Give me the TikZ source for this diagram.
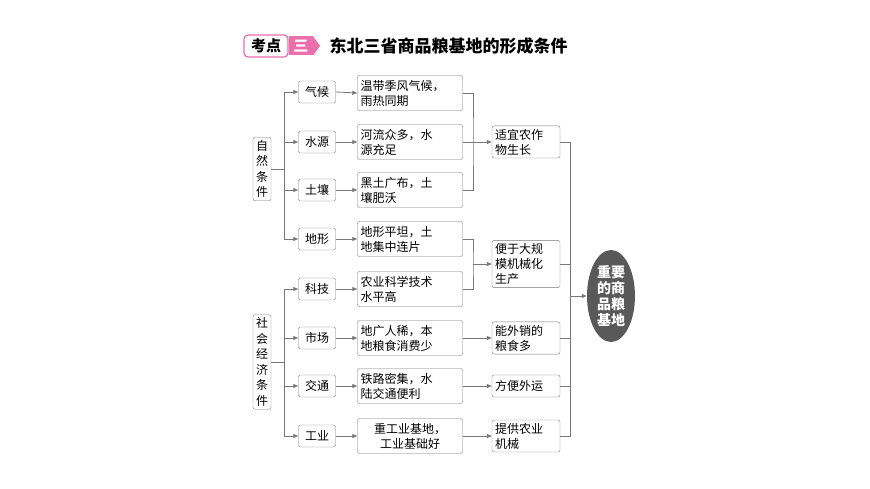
\documentclass[tikz,border=0pt]{standalone}
\usepackage{fontspec}
\setmainfont{Noto Sans CJK SC}
\usetikzlibrary{positioning,arrows.meta,shapes.geometric}
\definecolor{linegray}{RGB}{120,120,120}
\definecolor{kdpink}{RGB}{236,110,170}
\tikzset{
  box/.style={draw=linegray, rounded corners=2pt, fill=white, font=\fontsize{12}{15}\selectfont,
    align=left, inner sep=3pt},
  side/.style={box, text width=12pt, align=center, inner sep=3pt, font=\fontsize{12}{15.5}\selectfont},
  item/.style={box, minimum width=37pt, minimum height=22pt, align=center},
  fact/.style={box, text width=99pt, minimum height=35pt},
  result/.style={box, text width=62pt, minimum height=22pt},
  link/.style={draw=linegray, line width=0.8pt, -{Triangle[length=5pt,width=4pt]}},
  trunk/.style={draw=linegray, line width=0.8pt}
}
\begin{document}
\begin{tikzpicture}[x=1pt,y=-1pt]
\useasboundingbox (0,0) rectangle (870,489);

% title
\node[draw=kdpink, line width=1.2pt, rounded corners=4pt, fill=white, minimum width=44pt, minimum height=22pt,
  font=\fontsize{15}{15}\bfseries\selectfont, inner sep=1pt] (kd) at (266,46) {考点};
\node[fill=kdpink, text=white, minimum width=24pt, minimum height=19pt, font=\fontsize{15}{15}\bfseries\selectfont,
  inner sep=0pt, right=0pt of kd.east] (kdnum) {三};
\fill[kdpink] (kdnum.north east) -- ++(7,9.5) -- (kdnum.south east) -- cycle;
\node[anchor=west, font=\fontsize{17}{17}\bfseries\selectfont] (title) at (326,46) {东北三省商品粮基地的形成条件};

% left groups
\node[side] (nat) at (262,169) {自\\然\\条\\件};
\node[side] (soc) at (262,362) {社\\会\\经\\济\\条\\件};

% second column
\node[item] (c1) at (317,92) {气候};
\node[item] (c2) at (317,142) {水源};
\node[item] (c3) at (317,190) {土壤};
\node[item] (c4) at (317,239) {地形};
\node[item] (c5) at (317,289) {科技};
\node[item] (c6) at (317,338) {市场};
\node[item] (c7) at (317,386) {交通};
\node[item] (c8) at (317,436) {工业};

% third column
\node[fact] (f1) at (410,93) {温带季风气候，\\雨热同期};
\node[fact] (f2) at (410,142) {河流众多，水\\源充足};
\node[fact] (f3) at (410,190) {黑土广布，土\\壤肥沃};
\node[fact] (f4) at (410,239) {地形平坦，土\\地集中连片};
\node[fact] (f5) at (410,289) {农业科学技术\\水平高};
\node[fact] (f6) at (410,338) {地广人稀，本\\地粮食消费少};
\node[fact] (f7) at (410,386) {铁路密集，水\\陆交通便利};
\node[fact, align=center] (f8) at (410,436) {重工业基地，\\工业基础好};

% fourth column
\node[result] (r1) at (526,142) {适宜农作\\物生长};
\node[result] (r2) at (526,264) {便于大规\\模机械化\\生产};
\node[result] (r3) at (526,338) {能外销的\\粮食多};
\node[result] (r4) at (526,386) {方便外运};
\node[result] (r5) at (526,436) {提供农业\\机械};

% target
\node[ellipse, fill=black!65, text=white, minimum width=48pt, minimum height=92pt, inner sep=0pt,
  align=center, font=\fontsize{14}{16}\bfseries\selectfont] (goal) at (611,296) {重要\\的商\\品粮\\基地};

% trunks from the left groups
\coordinate (nj) at (284,169);
\coordinate (sj) at (284,362);
\draw[trunk] (nat.east) -- (nj);
\draw[trunk] (soc.east) -- (sj);
\draw[trunk] (nj |- c1) -- (nj |- c4);
\draw[trunk] (sj |- c5) -- (sj |- c8);
\foreach \i in {1,...,4} \draw[link] (nj |- c\i) -- (c\i.west);
\foreach \i in {5,...,8} \draw[link] (sj |- c\i) -- (c\i.west);
\foreach \i in {1,...,8} \draw[link] (c\i.east) -- (f\i.west);

% merges into the fourth column
\coordinate (m1) at (473,142);
\coordinate (m2) at (473,264);
\draw[trunk] (f1.east) -| (m1) |- (f3.east);
\draw[trunk] (f2.east) -- (m1);
\draw[link] (m1) -- (r1.west);
\draw[trunk] (f4.east) -| (m2) |- (f5.east);
\draw[link] (m2) -- (r2.west);
\draw[link] (f6.east) -- (r3.west);
\draw[link] (f7.east) -- (r4.west);
\draw[link] (f8.east) -- (r5.west);

% right trunk
\coordinate (rj) at (570,296);
\draw[trunk] (r1.east) -| (rj |- r1) -- (rj |- r5) -- (r5.east);
\foreach \i in {2,3,4} \draw[trunk] (r\i.east) -- (rj |- r\i);
\draw[link] (rj) -- (goal.west);
\end{tikzpicture}
\end{document}
